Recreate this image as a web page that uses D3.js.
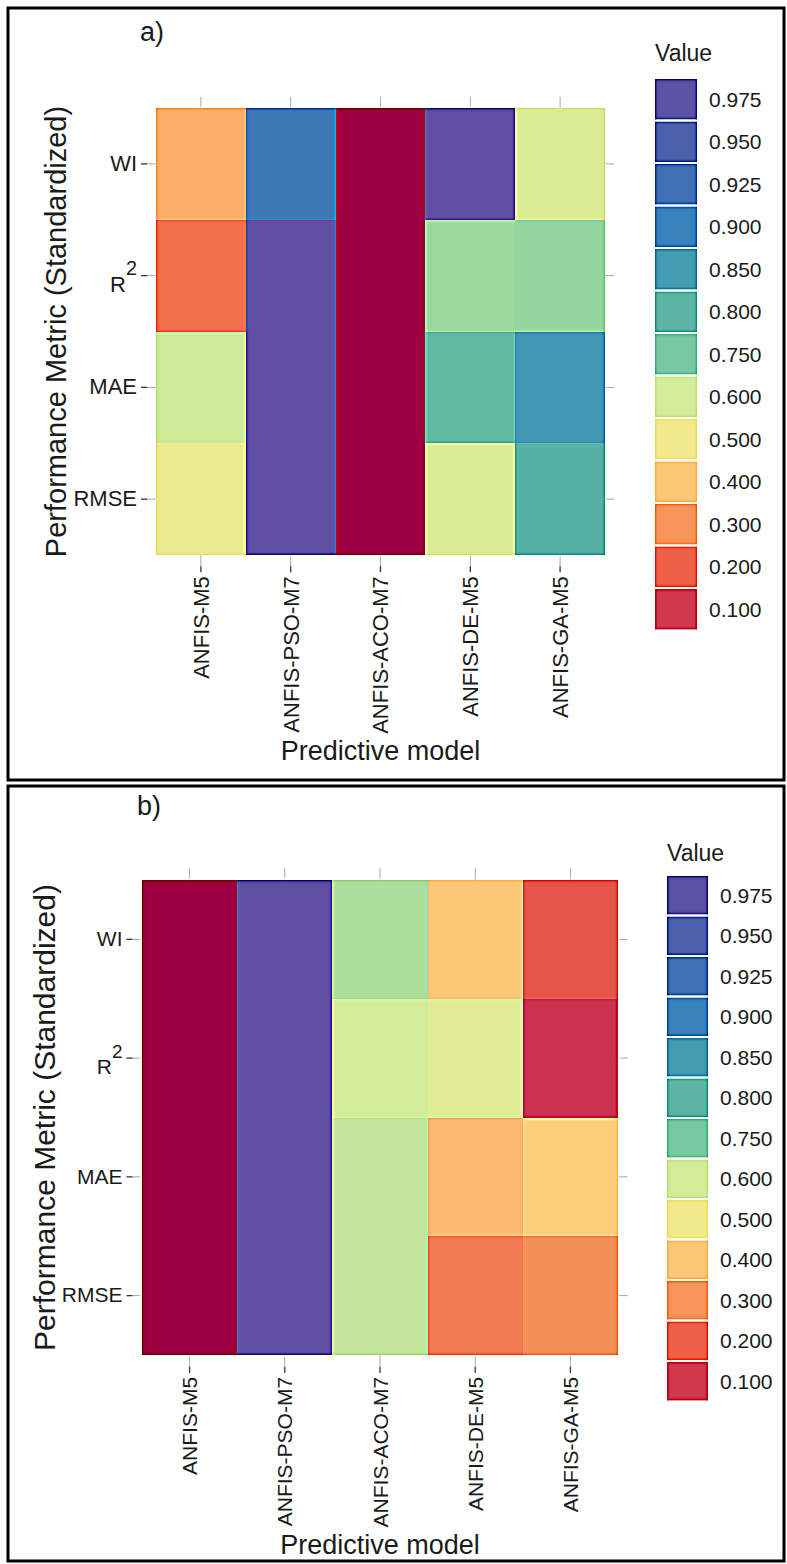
<!DOCTYPE html>
<html>
<head>
<meta charset="utf-8">
<script src="https://cdn.jsdelivr.net/npm/d3@7"></script>
<style>
body { margin: 0; background: #fff; }
svg text { font-family: "Liberation Sans", Arial, sans-serif; fill: #1a1a1a; }
</style>
</head>
<body>
<script>
// categories
var models = ["ANFIS-M5", "ANFIS-PSO-M7", "ANFIS-ACO-M7", "ANFIS-DE-M5", "ANFIS-GA-M5"];
var metrics = ["WI", "R2", "MAE", "RMSE"];

// panel a) standardized values, one array per metric (order = models)
var wiA   = [0.35, 0.915, 0.00, 1.00, 0.57];
var r2A   = [0.23, 1.00, 0.00, 0.69, 0.70];
var maeA  = [0.61, 1.00, 0.00, 0.79, 0.86];
var rmseA = [0.52, 1.00, 0.00, 0.57, 0.81];

// panel b)
var wiB   = [0.00, 1.00, 0.66, 0.40, 0.17];
var r2B   = [0.00, 1.00, 0.60, 0.56, 0.09];
var maeB  = [0.00, 1.00, 0.63, 0.37, 0.42];
var rmseB = [0.00, 1.00, 0.63, 0.25, 0.29];

// legend
var legendBreaks = [0.975, 0.950, 0.925, 0.900, 0.850, 0.800, 0.750, 0.600, 0.500, 0.400, 0.300, 0.200, 0.100];
var legendColors = ["#5a52a3", "#4b61ab", "#3f70b3", "#3a82bb", "#449cb3", "#5cb5a3", "#78c9a0",
                    "#d2ec9a", "#f2e98e", "#fdc77a", "#f6945a", "#ee6148", "#d0384f"];

var fill = d3.scaleLinear()
  .domain([0].concat(legendBreaks.slice().reverse(), [1]))
  .range(["#9e0142"].concat(legendColors.slice().reverse(), ["#5e4fa2"]));

var svg = d3.select("body").append("svg").attr("width", 787).attr("height", 1564);

// unsharp mask, the original figure has halo edges round the tiles
var filt = svg.append("defs").append("filter").attr("id", "sharpen")
  .attr("x", "-5%").attr("y", "-5%").attr("width", "110%").attr("height", "110%")
  .attr("color-interpolation-filters", "sRGB");
filt.append("feGaussianBlur").attr("in", "SourceGraphic").attr("stdDeviation", 1.6).attr("result", "blur");
filt.append("feComposite").attr("in", "SourceGraphic").attr("in2", "blur")
  .attr("operator", "arithmetic").attr("k1", 0).attr("k2", 2.5).attr("k3", -1.5).attr("k4", 0);

function drawPanel(p) {
  var rows = [p.wi, p.r2, p.mae, p.rmse];
  var cells = [];
  metrics.forEach(function (m, i) {
    models.forEach(function (mod, j) { cells.push({metric: m, model: mod, value: rows[i][j]}); });
  });

  var g = svg.append("g");

  // frame
  g.append("rect").attr("x", p.frame[0]).attr("y", p.frame[1])
    .attr("width", p.frame[2]).attr("height", p.frame[3])
    .attr("fill", "none").attr("stroke", "#000").attr("stroke-width", 3);

  g.append("text").attr("x", p.tag[0]).attr("y", p.tag[1])
    .attr("font-size", 27).text(p.label);

  var x = d3.scaleBand().domain(models).range(p.xr).padding(0);
  var y = d3.scaleBand().domain(metrics).range(p.yr).padding(0);
  var ex = x.bandwidth() * 0.1, ey = y.bandwidth() * 0.1;
  var left = p.xr[0] - ex, right = p.xr[1] + ex, top = p.yr[0] - ey, bottom = p.yr[1] + ey;

  var plot = g.append("g").attr("filter", "url(#sharpen)");
  plot.append("rect").attr("x", left - 10).attr("y", top - 10)
    .attr("width", right - left + 20).attr("height", bottom - top + 20).attr("fill", "#fff");

  // grid lines
  plot.selectAll(".gx").data(models).enter().append("line")
    .attr("x1", function (d) { return x(d) + x.bandwidth() / 2; })
    .attr("x2", function (d) { return x(d) + x.bandwidth() / 2; })
    .attr("y1", top).attr("y2", bottom)
    .attr("stroke", "#d6d6d6").attr("stroke-width", 1.2);
  plot.selectAll(".gy").data(metrics).enter().append("line")
    .attr("y1", function (d) { return y(d) + y.bandwidth() / 2; })
    .attr("y2", function (d) { return y(d) + y.bandwidth() / 2; })
    .attr("x1", left).attr("x2", right)
    .attr("stroke", "#d6d6d6").attr("stroke-width", 1.2);

  // tiles
  plot.selectAll(".tile").data(cells).enter().append("rect")
    .attr("x", function (d) { return Math.round(x(d.model)); })
    .attr("y", function (d) { return Math.round(y(d.metric)); })
    .attr("width", function (d) { return Math.round(x(d.model) + x.bandwidth()) - Math.round(x(d.model)); })
    .attr("height", function (d) { return Math.round(y(d.metric) + y.bandwidth()) - Math.round(y(d.metric)); })
    .attr("shape-rendering", "crispEdges")
    .attr("fill", function (d) { return fill(d.value); });

  // axes
  var ax = g.append("g").attr("transform", "translate(0," + bottom + ")")
    .call(d3.axisBottom(x).tickSize(6).tickSizeOuter(0));
  ax.select(".domain").remove();
  ax.selectAll("line").attr("stroke", "#333").attr("stroke-width", 1.3);
  ax.selectAll("text")
    .attr("font-size", p.xTickFont).attr("fill", "#1a1a1a")
    .attr("transform", "rotate(-90)")
    .attr("x", -10).attr("y", 0).attr("dy", "0.36em")
    .style("text-anchor", "end");

  var ay = g.append("g").attr("transform", "translate(" + left + ",0)")
    .call(d3.axisLeft(y).tickSize(6).tickSizeOuter(0).tickPadding(4));
  ay.select(".domain").remove();
  ay.selectAll("line").attr("stroke", "#333").attr("stroke-width", 1.3);
  ay.selectAll("text").attr("font-size", p.yTickFont).attr("fill", "#1a1a1a")
    .each(function (d) {
      if (d === "R2") {
        var t = d3.select(this).text("");
        t.attr("dy", "0.75em");
        t.append("tspan").text("R");
        t.append("tspan").attr("dy", "-0.85em").attr("font-size", "0.9em").text("2");
      }
    });

  // axis titles
  g.append("text")
    .attr("transform", "translate(" + p.yTitleX + "," + ((top + bottom) / 2) + ") rotate(-90)")
    .attr("text-anchor", "middle").attr("font-size", p.yTitleFont)
    .text("Performance Metric (Standardized)");
  g.append("text").attr("x", (left + right) / 2).attr("y", p.xTitleY)
    .attr("text-anchor", "middle").attr("font-size", 27)
    .text("Predictive model");

  // legend
  var lg = g.append("g");
  lg.append("text").attr("x", p.leg.x).attr("y", p.leg.titleY)
    .attr("font-size", 23).text("Value");
  var keys = lg.append("g").attr("filter", "url(#sharpen)");
  keys.append("rect").attr("x", p.leg.x - 10).attr("y", p.leg.top - 10)
    .attr("width", p.leg.size + 20).attr("height", p.leg.step * legendBreaks.length + 20).attr("fill", "#fff");
  keys.selectAll(".key").data(legendBreaks).enter().append("rect")
    .attr("x", p.leg.x)
    .attr("y", function (d, i) { return p.leg.top + i * p.leg.step; })
    .attr("width", p.leg.size)
    .attr("height", p.leg.step - 2)
    .attr("fill", function (d, i) { return legendColors[i]; });
  lg.selectAll(".klab").data(legendBreaks).enter().append("text")
    .attr("x", p.leg.x + p.leg.size + 12)
    .attr("y", function (d, i) { return p.leg.top + i * p.leg.step + p.leg.step / 2 - 1; })
    .attr("dy", "0.35em")
    .attr("font-size", 21)
    .text(function (d) { return d3.format(".3f")(d); });
}

drawPanel({
  label: "a)", tag: [140, 41], frame: [8, 8, 776, 772],
  wi: wiA, r2: r2A, mae: maeA, rmse: rmseA,
  xr: [156, 605], yr: [108, 555],
  xTickFont: 22, yTickFont: 22, yTitleX: 66, yTitleFont: 29, xTitleY: 760,
  leg: {x: 655, titleY: 61, top: 79, step: 42.5, size: 42}
});

drawPanel({
  label: "b)", tag: [137, 815], frame: [8, 786, 776, 775],
  wi: wiB, r2: r2B, mae: maeB, rmse: rmseB,
  xr: [142, 618], yr: [880, 1355],
  xTickFont: 21, yTickFont: 21, yTitleX: 55, yTitleFont: 30, xTitleY: 1554,
  leg: {x: 667, titleY: 861, top: 876, step: 40.5, size: 41}
});
</script>
</body>
</html>
